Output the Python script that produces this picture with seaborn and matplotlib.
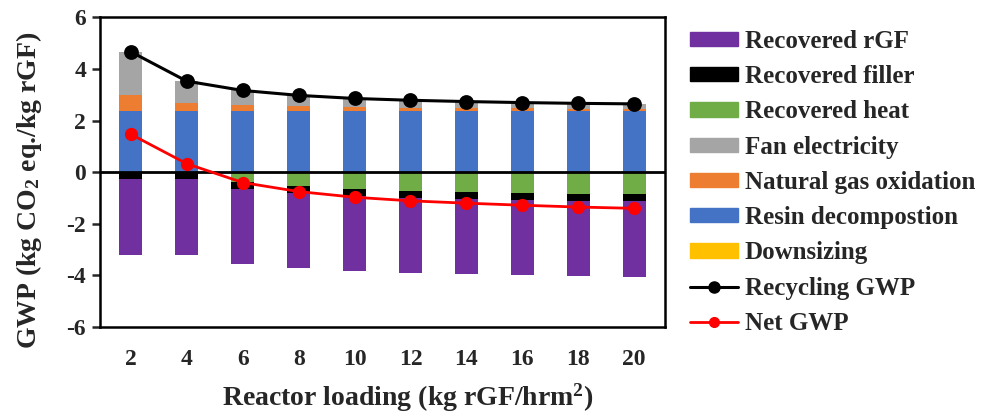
import numpy as np
import pandas as pd
import matplotlib
matplotlib.use("Agg")
import matplotlib.pyplot as plt
from matplotlib.patches import Patch
from matplotlib.lines import Line2D
import seaborn as sns

# reactor loading categories
loading = ["2", "4", "6", "8", "10", "12", "14", "16", "18", "20"]

# positive contributions (kg CO2 eq./kg rGF)
downsizing = [0.01, 0.01, 0.01, 0.01, 0.01, 0.01, 0.01, 0.01, 0.01, 0.01]
resin = [2.37, 2.37, 2.37, 2.37, 2.37, 2.37, 2.37, 2.37, 2.37, 2.37]
nat_gas = [0.60, 0.31, 0.22, 0.17, 0.14, 0.12, 0.11, 0.10, 0.09, 0.08]
fan = [1.69, 0.84, 0.57, 0.43, 0.34, 0.29, 0.25, 0.22, 0.20, 0.19]

# negative contributions (credits)
heat = [0.0, 0.0, -0.37, -0.53, -0.65, -0.72, -0.76, -0.80, -0.83, -0.85]
filler = [-0.27, -0.27, -0.27, -0.27, -0.27, -0.27, -0.27, -0.27, -0.27, -0.27]
rgf = [-2.93, -2.93, -2.92, -2.92, -2.91, -2.91, -2.92, -2.92, -2.92, -2.93]

# line series
recycling_gwp = [4.67, 3.53, 3.17, 2.98, 2.86, 2.79, 2.74, 2.70, 2.67, 2.65]
net_gwp = [1.47, 0.33, -0.40, -0.75, -0.97, -1.11, -1.20, -1.28, -1.35, -1.40]

c_rgf = "#7030A0"
c_filler = "#000000"
c_heat = "#70AD47"
c_fan = "#A5A5A5"
c_ng = "#ED7D31"
c_resin = "#4472C4"
c_down = "#FFC000"

sns.set_style("ticks")
plt.rcParams["font.family"] = ["Liberation Serif", "DejaVu Serif"]
plt.rcParams["font.weight"] = "bold"
plt.rcParams["mathtext.fontset"] = "custom"
plt.rcParams["mathtext.rm"] = "Liberation Serif:bold"
plt.rcParams["mathtext.default"] = "rm"
plt.rcParams["axes.unicode_minus"] = False

# cumulative stacks, drawn from outermost to innermost
df = pd.DataFrame({"loading": loading})
df["pos_down"] = np.array(downsizing)
df["pos_resin"] = df["pos_down"] + np.array(resin)
df["pos_ng"] = df["pos_resin"] + np.array(nat_gas)
df["pos_fan"] = df["pos_ng"] + np.array(fan)
df["neg_heat"] = np.array(heat)
df["neg_filler"] = df["neg_heat"] + np.array(filler)
df["neg_rgf"] = df["neg_filler"] + np.array(rgf)

fig = plt.figure(figsize=(9.91, 4.16), dpi=100)
ax = fig.add_axes([0.101, 0.214, 0.570, 0.744])

bw = 0.41
layers = [("pos_fan", c_fan), ("pos_ng", c_ng), ("pos_resin", c_resin), ("pos_down", c_down),
          ("neg_rgf", c_rgf), ("neg_filler", c_filler), ("neg_heat", c_heat)]
for col, color in layers:
    sns.barplot(data=df, x="loading", y=col, color=color, width=bw, saturation=1,
                errorbar=None, ax=ax, linewidth=0)

ax.axhline(0, color="black", lw=2, zorder=3)

sns.pointplot(x=loading, y=recycling_gwp, color="black", errorbar=None, ax=ax,
              markers="o", markersize=9, linewidth=2.2, zorder=5)
sns.pointplot(x=loading, y=net_gwp, color="#FF0000", errorbar=None, ax=ax,
              markers="o", markersize=8, linewidth=2.0, zorder=6)

ax.set_xlim(-0.55, 9.55)
ax.set_ylim(-6, 6)
ax.set_yticks(np.arange(-6, 7, 2))
ax.tick_params(axis="y", direction="out", length=6, width=1.8, labelsize=17, pad=4)
ax.tick_params(axis="x", length=0, labelsize=17, pad=16)
for s in ax.spines.values():
    s.set_visible(True)
    s.set_linewidth(1.8)
    s.set_color("black")

ax.set_xlabel("Reactor loading (kg rGF/hrm$^2$)", fontsize=20, fontweight="bold")
ax.xaxis.set_label_coords(0.545, -0.175)
ax.set_ylabel("GWP (kg CO$_2$ eq./kg rGF)", fontsize=20, fontweight="bold")
ax.yaxis.set_label_coords(-0.10, 0.443)

handles = [
    Patch(color=c_rgf, label="Recovered rGF"),
    Patch(color=c_filler, label="Recovered filler"),
    Patch(color=c_heat, label="Recovered heat"),
    Patch(color=c_fan, label="Fan electricity"),
    Patch(color=c_ng, label="Natural gas oxidation"),
    Patch(color=c_resin, label="Resin decompostion"),
    Patch(color=c_down, label="Downsizing"),
    Line2D([], [], color="black", lw=2.2, marker="o", markersize=8, label="Recycling GWP"),
    Line2D([], [], color="#FF0000", lw=2.0, marker="o", markersize=7, label="Net GWP"),
]
fig.legend(handles=handles, loc="upper left", bbox_to_anchor=(0.696, 0.928), frameon=False,
           prop={"size": 18, "weight": "bold"}, handlelength=1.95, handleheight=0.5,
           handletextpad=0.25, labelspacing=0.49, borderaxespad=0, borderpad=0)

fig.savefig("out.png", dpi=100)
